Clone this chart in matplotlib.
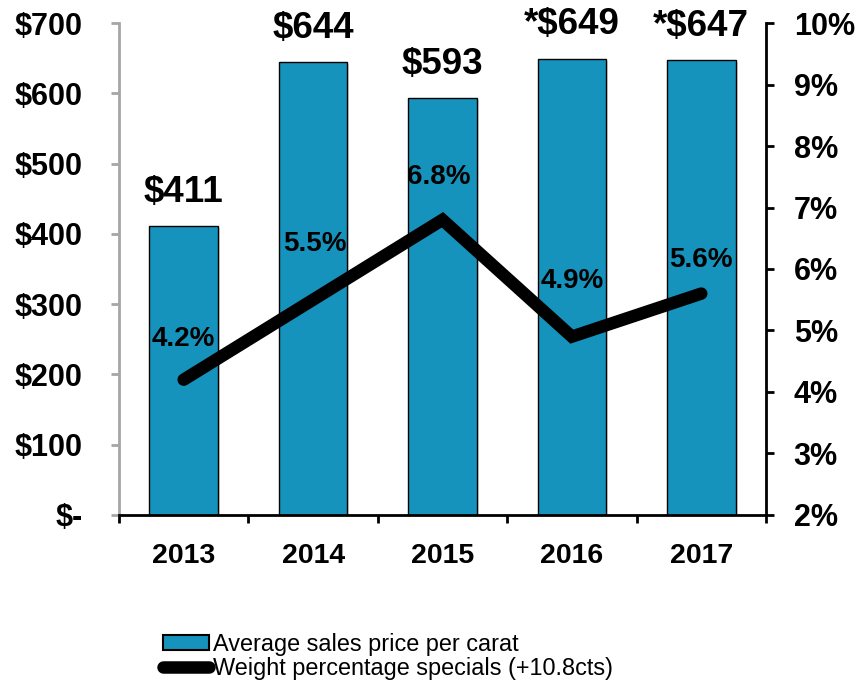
import matplotlib
matplotlib.use('Agg')
import matplotlib.pyplot as plt
import matplotlib.patheffects as pe
from matplotlib.lines import Line2D
from matplotlib.patches import Patch

plt.rcParams['font.family'] = ['Liberation Sans', 'DejaVu Sans']

anos = ['2013', '2014', '2015', '2016', '2017']
preco_carat = [411, 644, 593, 649, 647]
rotulos_preco = ['$411', '$644', '$593', '*$649', '*$647']
pct_specials = [4.2, 5.5, 6.8, 4.9, 5.6]
rotulos_pct = ['4.2%', '5.5%', '6.8%', '4.9%', '5.6%']

ticks_preco = [0, 100, 200, 300, 400, 500, 600, 700]
rotulos_ticks_preco = ['$-', '$100', '$200', '$300', '$400', '$500', '$600', '$700']
ticks_pct = [2, 3, 4, 5, 6, 7, 8, 9, 10]

# deslocamentos (pt) dos rotulos de percentual acima da linha
offsets_pct = [(0, 29), (1, 40), (-3, 31), (0, 40), (0, 24)]

AZUL = '#1693bc'
CINZA = '#a6a6a6'

fig = plt.figure(figsize=(8.59, 6.81), dpi=100)
ax = fig.add_axes([0.1385, 0.2438, 0.7532, 0.7224])
ax2 = ax.twinx()

x = list(range(len(anos)))
barras = ax.bar(x, preco_carat, width=0.53, color=AZUL, edgecolor='black', linewidth=1.0, zorder=2)
for b in barras:
    b.set_path_effects([pe.SimplePatchShadow(offset=(1.5, -1.5), shadow_rgbFace='gray', alpha=0.25),
                        pe.Normal()])
ax.set_xlim(-0.5, len(anos) - 0.5)
ax.set_ylim(0, 700)
ax.set_yticks(ticks_preco)
ax.set_yticklabels(rotulos_ticks_preco)

# ticks do eixo x nas fronteiras entre categorias
ax.set_xticks([i - 0.5 for i in range(len(anos) + 1)])
ax.set_xticklabels([])
ax.set_xticks(x, minor=True)
ax.set_xticklabels(anos, minor=True)
ax.tick_params(axis='x', which='major', direction='out', length=6, width=2, color='black')
ax.tick_params(axis='x', which='minor', length=0, pad=20, labelsize=20.5)
for lab in ax.get_xticklabels(minor=True):
    lab.set_fontweight('bold')

ax.tick_params(axis='y', direction='out', length=6, width=2, color=CINZA, pad=20, labelsize=22)
for lab in ax.get_yticklabels():
    lab.set_fontweight('bold')

for i, v in enumerate(preco_carat):
    ax.annotate(rotulos_preco[i], (x[i], v), xytext=(0, 24.5), textcoords='offset points',
                ha='center', va='center', fontsize=26.5, fontweight='bold')

ax2.plot(x, pct_specials, color='black', linewidth=9, solid_capstyle='round',
         solid_joinstyle='miter', zorder=3)
ax2.set_ylim(2, 10)
ax2.set_yticks(ticks_pct)
ax2.set_yticklabels([f'{t}%' for t in ticks_pct])
ax2.tick_params(axis='y', direction='out', length=6, width=2, color='black', pad=14, labelsize=22)
for lab in ax2.get_yticklabels():
    lab.set_fontweight('bold')

for i, v in enumerate(pct_specials):
    ax2.annotate(rotulos_pct[i], (x[i], v), xytext=offsets_pct[i], textcoords='offset points',
                 ha='center', va='center', fontsize=20, fontweight='bold')

for a in (ax, ax2):
    a.spines['top'].set_visible(False)
ax.spines['left'].set_color(CINZA)
ax.spines['left'].set_linewidth(2)
ax.spines['right'].set_visible(False)
ax.spines['bottom'].set_color('black')
ax.spines['bottom'].set_linewidth(2)
ax2.spines['left'].set_visible(False)
ax2.spines['bottom'].set_visible(False)
ax2.spines['right'].set_color('black')
ax2.spines['right'].set_linewidth(2)

handles = [Patch(facecolor=AZUL, edgecolor='black', linewidth=1.5),
           Line2D([0], [0], color='black', linewidth=9, solid_capstyle='round')]
labels = ['Average sales price per carat', 'Weight percentage specials (+10.8cts)']
fig.legend(handles, labels, loc='upper left', bbox_to_anchor=(163 / 859, 0.071),
           frameon=False, fontsize=16.9, handlelength=1.95, handleheight=0.6,
           handletextpad=0.2, labelspacing=0.05, borderpad=0, borderaxespad=0)

fig.savefig('out.png', dpi=100)
plt.close(fig)
